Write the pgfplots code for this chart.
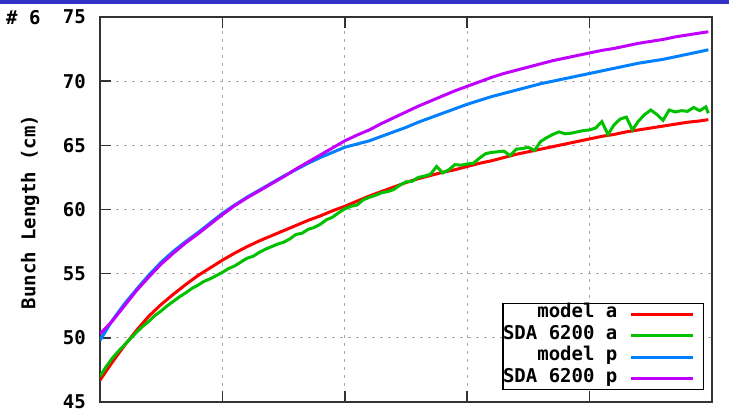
\documentclass[border=0pt]{standalone}
\usepackage{fontspec}
\setmonofont{DejaVu Sans Mono}
\usepackage{pgfplots}
\pgfplotsset{compat=1.18}

\definecolor{barblue}{RGB}{50,50,200}
\definecolor{gpred}{RGB}{255,0,0}
\definecolor{gpgreen}{RGB}{0,192,0}
\definecolor{gpblue}{RGB}{0,128,255}
\definecolor{gppurple}{RGB}{192,0,255}
\newcommand\gpfont{\ttfamily\bfseries\fontsize{19bp}{22bp}\selectfont}

\begin{document}
\begin{tikzpicture}
\useasboundingbox (0,0) rectangle (729bp,410bp);
% header strip and slide number
\fill[barblue] (0,406bp) rectangle (729bp,410bp);
\node[anchor=base west, inner sep=0pt, font=\gpfont] at (6bp,385bp) {\# 6};

\begin{axis}[
  at={(100bp,8bp)}, anchor=south west,
  scale only axis, width=612bp, height=385bp,
  xmin=0, xmax=5, ymin=45, ymax=75,
  xtick={1,2,3,4}, xticklabels={},
  ytick={45,50,...,75},
  ytick pos=left,
  tick align=inside,
  major tick length=11bp,
  every tick/.style={line width=1.5bp, black!80},
  axis line style={line width=1.5bp, black!80},
  grid=major,
  major grid style={dash pattern=on 3bp off 5bp, line width=1bp, black!35},
  /pgf/number format/assume math mode=true,
  yticklabel style={font=\gpfont, inner sep=0pt, xshift=-14bp},
  ylabel={Bunch Length (cm)},
  every axis y label/.style={at={(axis description cs:-0.114,0.4935)}, rotate=90, anchor=center, font=\gpfont},
  legend plot pos=right,
  legend cell align=right,
  legend image code/.code={\draw[#1, line width=3bp] (12bp,0bp) -- (74bp,0bp); \path (0bp,0bp) (83bp,0bp);},
  legend style={at={(rel axis cs:0.987,0.031)}, anchor=south east,
    draw=black, line width=1.2bp, fill=white, font=\gpfont,
    inner xsep=0bp, inner ysep=0bp, row sep=0bp,
    nodes={inner xsep=0bp, inner ysep=0bp, text height=14bp, text depth=7.4bp}},
  every axis plot/.append style={line width=3bp},
]

% model a
\addplot[gpred] coordinates {
(0.0,46.7) (0.1,48.1) (0.2,49.4) (0.3,50.6) (0.4,51.7) (0.5,52.6) (0.6,53.4)
(0.7,54.15) (0.8,54.85) (0.9,55.45) (1.0,56.05) (1.1,56.6) (1.2,57.1) (1.3,57.55)
(1.4,57.95) (1.5,58.35) (1.6,58.75) (1.7,59.15) (1.8,59.5) (1.9,59.9) (2.0,60.25)
(2.1,60.65) (2.2,61.05) (2.3,61.4) (2.4,61.75) (2.5,62.1) (2.6,62.4) (2.7,62.65)
(2.8,62.9) (2.9,63.1) (3.0,63.35) (3.1,63.6) (3.2,63.8) (3.3,64.05) (3.4,64.3)
(3.5,64.5) (3.6,64.7) (3.7,64.9) (3.8,65.1) (3.9,65.3) (4.0,65.5) (4.1,65.7)
(4.2,65.85) (4.3,66.05) (4.4,66.2) (4.5,66.35) (4.6,66.5) (4.7,66.65) (4.8,66.8)
(4.9,66.9) (4.97,67.0)
};
\addlegendentry{model a}

% SDA 6200 a
\addplot[gpgreen] coordinates {
(0.00,47.0) (0.05,47.75) (0.10,48.4) (0.15,48.95) (0.20,49.45) (0.25,49.95)
(0.30,50.45) (0.35,50.9) (0.40,51.3) (0.45,51.75) (0.50,52.1) (0.55,52.5)
(0.60,52.85) (0.65,53.2) (0.70,53.5) (0.75,53.85) (0.80,54.1) (0.85,54.4)
(0.90,54.6) (0.95,54.85) (1.00,55.1) (1.05,55.4) (1.10,55.6) (1.15,55.9)
(1.20,56.2) (1.25,56.35) (1.30,56.65) (1.35,56.9) (1.40,57.1) (1.45,57.3)
(1.50,57.45) (1.55,57.7) (1.60,58.05) (1.65,58.15) (1.70,58.45) (1.75,58.6)
(1.80,58.85) (1.85,59.2) (1.90,59.4) (1.95,59.75) (2.00,60.05) (2.05,60.25)
(2.10,60.35) (2.15,60.75) (2.20,60.95) (2.25,61.1) (2.30,61.3) (2.35,61.4)
(2.40,61.55) (2.45,61.9) (2.50,62.15) (2.55,62.2) (2.60,62.5) (2.65,62.6)
(2.70,62.75) (2.75,63.35) (2.80,62.85) (2.85,63.1) (2.90,63.5) (2.95,63.45)
(3.00,63.55) (3.05,63.6) (3.10,64.0) (3.15,64.35) (3.20,64.45) (3.25,64.5)
(3.30,64.55) (3.35,64.2) (3.40,64.7) (3.45,64.75) (3.50,64.85) (3.55,64.6)
(3.60,65.3) (3.65,65.6) (3.70,65.85) (3.75,66.05) (3.80,65.9) (3.85,65.95)
(3.90,66.05) (3.95,66.15) (4.00,66.2) (4.05,66.35) (4.10,66.85) (4.15,65.85)
(4.20,66.6) (4.25,67.05) (4.30,67.2) (4.35,66.2) (4.40,66.9) (4.45,67.4)
(4.50,67.75) (4.55,67.4) (4.60,66.95) (4.65,67.75) (4.70,67.6) (4.75,67.7)
(4.80,67.65) (4.85,67.95) (4.90,67.7) (4.95,68.0) (4.97,67.5)
};
\addlegendentry{SDA 6200 a}

% model p
\addplot[gpblue] coordinates {
(0.0,49.8) (0.1,51.35) (0.2,52.65) (0.3,53.8) (0.4,54.9) (0.5,55.9) (0.6,56.75)
(0.7,57.5) (0.8,58.2) (0.9,58.95) (1.0,59.7) (1.1,60.35) (1.2,60.95) (1.3,61.5)
(1.4,62.05) (1.5,62.6) (1.6,63.1) (1.7,63.6) (1.8,64.05) (1.9,64.45) (2.0,64.85)
(2.1,65.1) (2.2,65.35) (2.3,65.7) (2.4,66.05) (2.5,66.4) (2.6,66.8) (2.7,67.15)
(2.8,67.5) (2.9,67.85) (3.0,68.2) (3.1,68.5) (3.2,68.8) (3.3,69.05) (3.4,69.3)
(3.5,69.55) (3.6,69.8) (3.7,70.0) (3.8,70.2) (3.9,70.4) (4.0,70.6) (4.1,70.8)
(4.2,71.0) (4.3,71.2) (4.4,71.4) (4.5,71.55) (4.6,71.7) (4.7,71.9) (4.8,72.1)
(4.9,72.3) (4.97,72.45)
};
\addlegendentry{model p}

% SDA 6200 p
\addplot[gppurple] coordinates {
(0.0,50.3) (0.1,51.3) (0.2,52.5) (0.3,53.7) (0.4,54.75) (0.5,55.75) (0.6,56.6)
(0.7,57.4) (0.8,58.1) (0.9,58.85) (1.0,59.6) (1.1,60.3) (1.2,60.9) (1.3,61.45)
(1.4,62.0) (1.5,62.55) (1.6,63.15) (1.7,63.7) (1.8,64.25) (1.9,64.8) (2.0,65.35)
(2.1,65.8) (2.2,66.2) (2.3,66.7) (2.4,67.15) (2.5,67.6) (2.6,68.05) (2.7,68.45)
(2.8,68.85) (2.9,69.25) (3.0,69.6) (3.1,69.95) (3.2,70.3) (3.3,70.6) (3.4,70.85)
(3.5,71.1) (3.6,71.35) (3.7,71.6) (3.8,71.8) (3.9,72.0) (4.0,72.2) (4.1,72.4)
(4.2,72.55) (4.3,72.75) (4.4,72.95) (4.5,73.1) (4.6,73.25) (4.7,73.45) (4.8,73.6)
(4.9,73.75) (4.97,73.85)
};
\addlegendentry{SDA 6200 p}

\end{axis}
\end{tikzpicture}
\end{document}
